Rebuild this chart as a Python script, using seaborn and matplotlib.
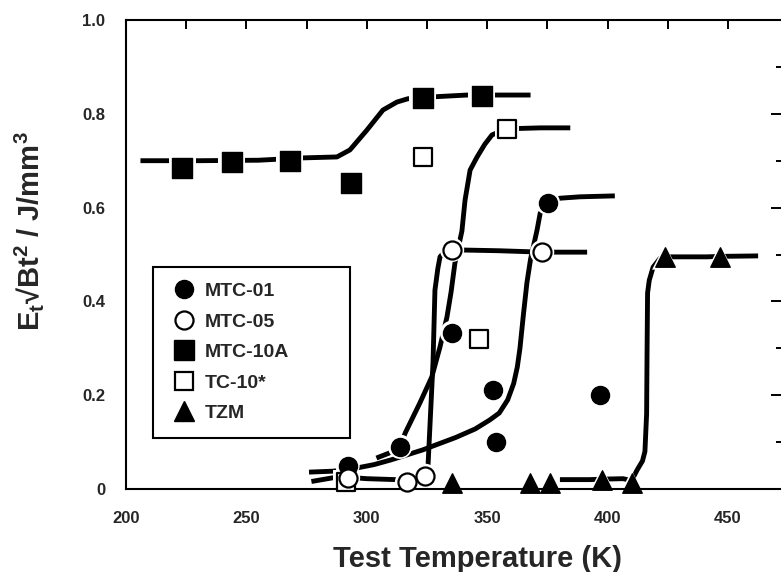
import matplotlib
matplotlib.use("Agg")
import matplotlib.pyplot as plt
from matplotlib.lines import Line2D
from matplotlib.ticker import FixedLocator
import seaborn as sns

# ---------------- data ----------------
SERIES = ["MTC-01", "MTC-05", "MTC-10A", "TC-10*", "TZM"]

MTC01_T = [292.0, 313.8, 335.4, 352.4, 353.7, 375.2, 396.8]
MTC01_E = [0.050, 0.090, 0.333, 0.211, 0.100, 0.610, 0.200]

MTC05_T = [292.2, 316.7, 324.2, 335.4, 372.8]
MTC05_E = [0.024, 0.014, 0.028, 0.510, 0.505]

MTC10A_T = [223.3, 244.0, 268.0, 293.4, 323.3, 347.8]
MTC10A_E = [0.684, 0.697, 0.699, 0.652, 0.834, 0.838]

TC10_T = [291.2, 323.3, 346.6, 358.2]
TC10_E = [0.014, 0.708, 0.320, 0.768]

TZM_T = [335.4, 367.8, 376.0, 397.7, 410.0, 423.8, 446.7]
TZM_E = [0.013, 0.013, 0.013, 0.020, 0.013, 0.495, 0.495]

# hand-drawn guide curves
MTC10A_CURVE_T = [206, 230, 255, 273.5, 287.6, 293, 300, 306.7, 312.5, 317, 323.3, 341.6, 368]
MTC10A_CURVE_E = [0.700, 0.700, 0.701, 0.706, 0.708, 0.723, 0.765, 0.808, 0.825, 0.832, 0.835, 0.840, 0.840]

TC10_CURVE_T = [304, 309, 313.8, 316, 322, 327, 330.4, 333.3, 335.0, 336.6, 338.7, 339.5,
                340.8, 342.9, 345.8, 349, 352, 358.2, 372, 384.5]
TC10_CURVE_E = [0.066, 0.076, 0.090, 0.120, 0.183, 0.239, 0.303, 0.367, 0.420, 0.482, 0.531, 0.550,
                0.616, 0.680, 0.708, 0.735, 0.755, 0.768, 0.770, 0.770]

MTC05_CURVE_T = [277, 286, 292, 300, 312, 316.7, 324.2, 325.4, 327.5, 328.3, 329.5, 330.4,
                 332.5, 335.4, 355, 372.8, 391.5]
MTC05_CURVE_E = [0.016, 0.024, 0.025, 0.022, 0.020, 0.015, 0.028, 0.047, 0.270, 0.424, 0.470, 0.495,
                 0.507, 0.510, 0.508, 0.505, 0.505]

MTC01_CURVE_T = [276, 286, 292, 296, 303, 310, 323, 337, 345, 351, 355, 358.5, 361, 362.5,
                 363.6, 365, 366.5, 368, 370.7, 372, 375.2, 380.2, 388.5, 403]
MTC01_CURVE_E = [0.036, 0.038, 0.042, 0.045, 0.052, 0.062, 0.083, 0.110, 0.128, 0.147, 0.162, 0.190,
                 0.225, 0.260, 0.300, 0.370, 0.440, 0.490, 0.552, 0.588, 0.610, 0.620, 0.623, 0.625]

TZM_CURVE_T = [380.2, 392.7, 397.7, 406.4, 410, 412.2, 414.5, 415.5, 416.2, 416.4, 416.6, 417.3,
               418.9, 421.8, 423.8, 441.3, 446.7, 462.5]
TZM_CURVE_E = [0.020, 0.020, 0.021, 0.022, 0.018, 0.040, 0.060, 0.080, 0.160, 0.300, 0.418, 0.445,
               0.473, 0.492, 0.495, 0.495, 0.496, 0.497]

X_TICKS = [200, 250, 300, 350, 400, 450]
X_TICK_LABELS = ["200", "250", "300", "350", "400", "450"]
Y_TICKS = [0.0, 0.2, 0.4, 0.6, 0.8, 1.0]
Y_TICK_LABELS = ["0", "0.2", "0.4", "0.6", "0.8", "1.0"]

# ---------------- style ----------------
sns.set_style("white")
plt.rcParams["font.family"] = ["Liberation Sans", "DejaVu Sans"]
plt.rcParams["font.weight"] = "bold"
plt.rcParams["mathtext.fontset"] = "custom"
plt.rcParams["mathtext.rm"] = "Liberation Sans:bold"
plt.rcParams["mathtext.it"] = "Liberation Sans:bold"
plt.rcParams["mathtext.bf"] = "Liberation Sans:bold"

W, H = 781, 572
fig = plt.figure(figsize=(W / 100, H / 100), dpi=100)
XMIN, XMAX = 200, 473
PX_PER_K = 2.408
ax = fig.add_axes([126 / W, 1 - 489 / H, (XMAX - XMIN) * PX_PER_K / W, (489 - 20) / H])

styles = {
    "MTC-01": dict(marker="o", face="black", ms=13, ew=1.0),
    "MTC-05": dict(marker="o", face="white", ms=13, ew=1.6),
    "MTC-10A": dict(marker="s", face="black", ms=15, ew=1.0),
    "TC-10*": dict(marker="s", face="white", ms=13, ew=1.6),
    "TZM": dict(marker="^", face="black", ms=14, ew=1.0),
}
points = {
    "MTC-01": (MTC01_T, MTC01_E),
    "MTC-05": (MTC05_T, MTC05_E),
    "MTC-10A": (MTC10A_T, MTC10A_E),
    "TC-10*": (TC10_T, TC10_E),
    "TZM": (TZM_T, TZM_E),
}
curves = [
    (MTC10A_CURVE_T, MTC10A_CURVE_E),
    (TC10_CURVE_T, TC10_CURVE_E),
    (MTC05_CURVE_T, MTC05_CURVE_E),
    (MTC01_CURVE_T, MTC01_CURVE_E),
    (TZM_CURVE_T, TZM_CURVE_E),
]

# guide curves
for ct, ce in curves:
    sns.lineplot(x=ct, y=ce, sort=False, estimator=None, color="black", linewidth=3.5,
                 solid_capstyle="butt", solid_joinstyle="round", zorder=2.1, ax=ax, legend=False)

# white halos (gaps in the lines around markers)
for name in SERIES:
    st = styles[name]
    t, e = points[name]
    sns.scatterplot(x=t, y=e, marker=st["marker"], s=(st["ms"] + 4.5) ** 2, color="white",
                    edgecolor="none", linewidth=0, zorder=2.2, clip_on=False, ax=ax, legend=False)

# markers
for name in ["MTC-10A", "TC-10*", "MTC-01", "MTC-05", "TZM"]:
    st = styles[name]
    t, e = points[name]
    sns.scatterplot(x=t, y=e, marker=st["marker"], s=st["ms"] ** 2, color=st["face"],
                    edgecolor="black", linewidth=st["ew"], zorder=3, clip_on=False, ax=ax, legend=False)

# axes
ax.set_xlim(XMIN, XMAX)
ax.set_ylim(0, 1.0)
ax.xaxis.set_major_locator(FixedLocator(X_TICKS))
ax.xaxis.set_minor_locator(FixedLocator([225, 275, 325, 375, 425]))
ax.yaxis.set_major_locator(FixedLocator(Y_TICKS))
ax.yaxis.set_minor_locator(FixedLocator([0.1, 0.3, 0.5, 0.7, 0.9]))
ax.set_xticklabels(X_TICK_LABELS)
ax.set_yticklabels(Y_TICK_LABELS)
ax.tick_params(which="both", direction="in", top=True, right=True, width=1.4, color="black")
ax.tick_params(axis="x", which="both", length=6.5, pad=15.5, labelsize=12)
ax.tick_params(axis="y", which="major", length=8.6, pad=15, labelsize=12)
ax.tick_params(axis="y", which="minor", length=5)
for lab in ax.get_xticklabels() + ax.get_yticklabels():
    lab.set_fontweight("bold")
for sp in ax.spines.values():
    sp.set_linewidth(1.5)
    sp.set_color("black")

ax.set_xlabel("Test Temperature (K)", fontsize=21, fontweight="bold")
ax.xaxis.set_label_coords(0.5354, -0.119)
ax.set_ylabel(r"E$_{\rm t}$√Bt$^{\rm 2}$ / J/mm$^{\rm 3}$", fontsize=21, fontweight="bold")
ax.yaxis.set_label_coords(-0.1217, 0.55)

# legend
handles = [Line2D([], [], ls="none", marker=styles[n]["marker"], markerfacecolor=styles[n]["face"],
                  markeredgecolor="black", markersize=styles[n]["ms"],
                  markeredgewidth=styles[n]["ew"]) for n in SERIES]
lx = (153 - 126) / ((XMAX - XMIN) * PX_PER_K)
lw_ = 197 / ((XMAX - XMIN) * PX_PER_K)
ltop = (489 - 267) / 469
lh = 170 / 469
leg = ax.legend(handles, SERIES, loc="upper left", bbox_to_anchor=(lx, ltop - lh, lw_, lh),
                mode="expand", borderaxespad=0, frameon=True, fancybox=False, framealpha=1,
                edgecolor="black", prop={"size": 14, "weight": "bold"}, borderpad=0.8,
                labelspacing=0.66, handlelength=1.6, handletextpad=0.25)
leg.get_frame().set_linewidth(1.5)

fig.savefig("out.png", dpi=100)
